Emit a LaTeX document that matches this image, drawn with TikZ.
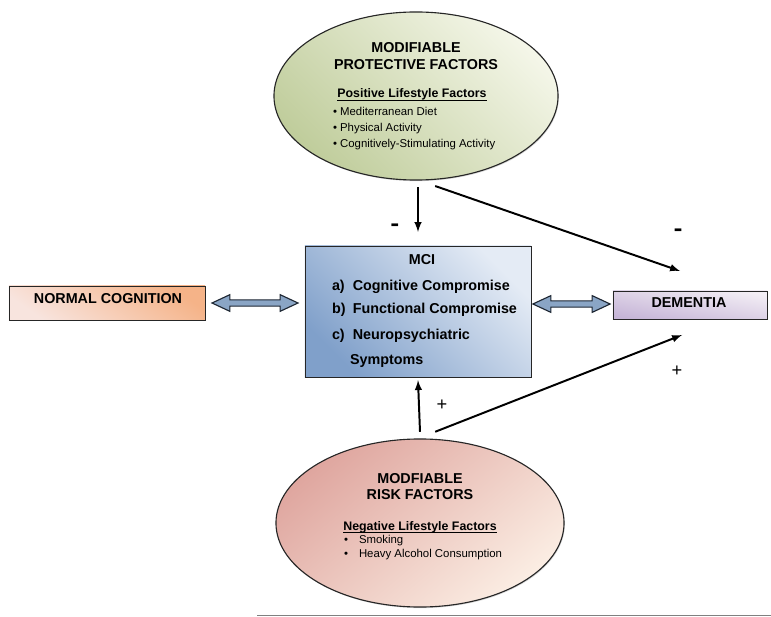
\documentclass[tikz,border=0pt]{standalone}
\usepackage{fontspec}
\usepackage{graphicx}
\setmainfont{Liberation Sans}
\usetikzlibrary{shapes.geometric,shapes.arrows,shadows}
\usetikzlibrary{positioning}
\definecolor{protectlight}{HTML}{F4F6E8}
\definecolor{protectdark}{HTML}{C0CD9C}
\definecolor{risklight}{HTML}{FBEDE3}
\definecolor{riskdark}{HTML}{DFA69F}
\definecolor{mcilight}{HTML}{E4EBF5}
\definecolor{mcidark}{HTML}{80A0CA}
\definecolor{normlight}{HTML}{F8E4DE}
\definecolor{normdark}{HTML}{F5B388}
\definecolor{demlight}{HTML}{F3EEF5}
\definecolor{demdark}{HTML}{C6B5D7}
\definecolor{linkfill}{HTML}{8AA5C5}
\definecolor{linkedge}{HTML}{1E2733}
\newcommand{\edgecolor}{black!85}
\tikzstyle{every node}=[inner sep=0, outer sep=0]
\tikzstyle{factor}=[ellipse, draw=\edgecolor, line width=0.8pt, drop shadow={opacity=0.3, shadow xshift=0.6pt, shadow yshift=-0.8pt}]
\tikzstyle{stage}=[rectangle, draw=\edgecolor, line width=0.6pt, drop shadow={opacity=0.3, shadow xshift=0.8pt, shadow yshift=-0.8pt}]
\tikzstyle{link}=[double arrow, draw=linkedge, fill=linkfill, line width=0.8pt, inner xsep=0, inner ysep=0.065cm, double arrow head extend=0.13cm, double arrow tip angle=50]
\tikzstyle{conn}=[-latex, line width=1.4pt]
\tikzstyle{head}=[font=\fontsize{10.2pt}{12pt}\selectfont\bfseries, anchor=base]
\tikzstyle{sub}=[font=\fontsize{8.8pt}{10pt}\selectfont\bfseries, anchor=base]
\tikzstyle{item}=[font=\fontsize{8.1pt}{10pt}\selectfont, anchor=base west]
\tikzstyle{sign}=[font=\fontsize{12pt}{14pt}\selectfont\bfseries]
\tikzstyle{plus}=[font=\fontsize{13pt}{14pt}\selectfont]

\begin{document}
\begin{tikzpicture}[x=0.025cm, y=-0.025cm]
    \useasboundingbox (0,0) rectangle (771,617);
    % protective factors
    \node[factor, top color=protectlight, bottom color=protectdark, shading angle=-45,
        minimum width=7.1cm, minimum height=4.2cm] (protect) at (416,96) {};
    \node[head] (protecttitle) at (416,53) {MODIFIABLE};
    \node[head] (protecttitle2) at (416,70) {PROTECTIVE FACTORS};
    \node[sub] (protectsub) at (412,98) {\underline{\smash{Positive Lifestyle Factors}}};
    \node[item] (diet) at (333,116) {\textbullet\ Mediterranean Diet};
    \node[item] (physical) at (333,132) {\textbullet\ Physical Activity};
    \node[item] (stimulating) at (333,148) {\textbullet\ Cognitively-Stimulating Activity};
    % risk factors
    \node[factor, top color=riskdark, bottom color=risklight, shading angle=40,
        minimum width=7.2cm, minimum height=4.2cm] (risk) at (420,523) {};
    \node[head] (risktitle) at (420,483) {MODFIABLE};
    \node[head] (risktitle2) at (420,499) {RISK FACTORS};
    \node[sub] (risksub) at (420,530) {\underline{\smash{Negative Lifestyle Factors}}};
    \node[item] (smoking) at (344,543) {\makebox[0.375cm][l]{\textbullet}Smoking};
    \node[item] (alcohol) at (344,557) {\makebox[0.375cm][l]{\textbullet}Heavy Alcohol Consumption};
    % stages
    \node[stage, top color=normdark, bottom color=normlight, shading angle=-35,
        minimum width=4.9cm, minimum height=0.85cm] (normal) at (107,303) {};
    \node[head] (normaltext) at (108,304) {NORMAL COGNITION};
    \node[stage, top color=mcilight, bottom color=mcidark, shading angle=-45,
        minimum width=5.65cm, minimum height=3.275cm] (mci) at (418,311.5) {};
    \node[head] (mcititle) at (422,265) {MCI};
    \node[head, anchor=base west] (cognitive) at (332,290) {\makebox[0.52cm][l]{a)}Cognitive Compromise};
    \node[head, anchor=base west] (functional) at (332,314) {\makebox[0.52cm][l]{b)}Functional Compromise};
    \node[head, anchor=base west] (neuro) at (332,340) {\makebox[0.52cm][l]{c)}Neuropsychiatric};
    \node[head, anchor=base west] (symptoms) at (350,365) {Symptoms};
    \node[stage, top color=demlight, bottom color=demdark, shading angle=-10,
        minimum width=3.85cm, minimum height=0.7cm] (dementia) at (690,305) {};
    \node[head] (dementiatext) at (689,308) {DEMENTIA};
    % two-way links
    \node[link, minimum height=2.15cm] (leftlink) at (255,303) {};
    \node[link, minimum height=1.93cm] (rightlink) at (571.5,304) {};
    % influences
    \coordinate (dementiaup) at (680,271);
    \coordinate (dementiadown) at (682,335);
    \draw[conn] ([xshift=0.05cm, yshift=-0.18cm]protect.south) -- ([yshift=0.35cm]mci.north);
    \draw[conn] ([xshift=0.48cm, yshift=-0.15cm]protect.south) -- (dementiaup);
    \draw[conn] ([yshift=0.18cm]risk.north) -- ([yshift=-0.08cm]mci.south);
    \draw[conn] ([xshift=0.38cm, yshift=0.18cm]risk.north) -- (dementiadown);
    \node[sign] (minusmci) at (395,228) {\scalebox{0.8}[1.6]{--}};
    \node[sign] (minusdem) at (678,233) {\scalebox{0.8}[1.6]{--}};
    \node[plus] (plusmci) at (442,405) {+};
    \node[plus] (plusdem) at (677,371) {+};
    % rule at the foot
    \draw[gray, line width=1.2pt] (257,615.5) -- (771,615.5);
\end{tikzpicture}
\end{document}
